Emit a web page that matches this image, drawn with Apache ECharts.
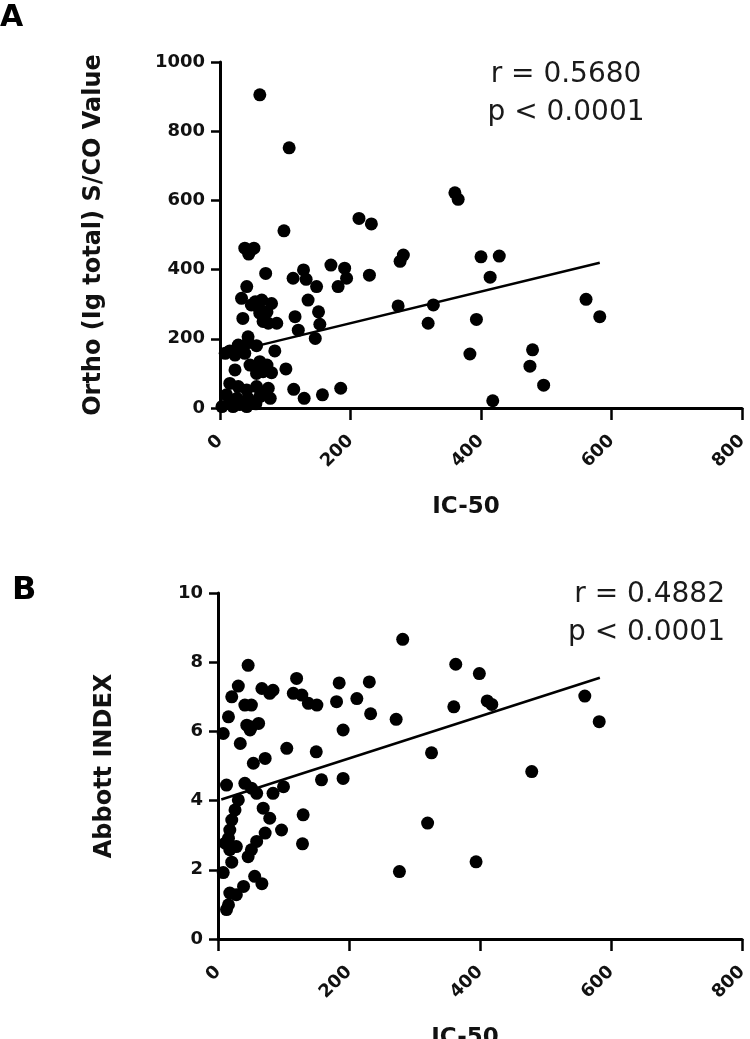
<!DOCTYPE html>
<html>
<head>
<meta charset="utf-8">
<script src="https://cdn.jsdelivr.net/npm/echarts@6/dist/echarts.min.js"></script>
<style>
html,body{margin:0;padding:0;background:#fff;}
#c{width:750px;height:1039px;}
</style>
</head>
<body>
<div id="c"></div>
<script>
// Panel A: IC-50 vs Ortho (Ig total) S/CO value
const pointsA = [
  [61,905],[106,752],[98,512],[213,548],[232,532],[229,384],
  [360,622],[365,603],[281,442],[276,424],[400,437],[428,439],[414,378],
  [273,295],[327,298],[319,245],[393,256],[383,156],[479,168],[475,121],[496,66],[418,21],[561,314],[582,264],
  [38,462],[52,462],[44,445],[47,456],[70,389],[41,351],[33,317],[48,298],[64,312],[79,302],[54,307],[35,259],
  [61,274],[66,250],[74,245],[87,245],[61,283],[72,278],
  [112,375],[128,399],[132,372],[135,312],[115,264],[120,225],[148,351],[151,278],[153,242],[146,201],
  [170,413],[191,404],[194,375],[181,351],
  [43,206],[15,165],[28,182],[43,190],[56,180],[8,158],[23,153],[38,158],[84,165],[46,124],[61,134],[72,124],
  [23,110],[101,113],[79,102],[56,100],[54,119],[66,105],
  [113,54],[129,28],[157,38],[185,57],
  [15,71],[28,62],[41,52],[56,62],[74,57],[10,38],[26,28],[43,28],[61,33],[77,28],[3,4],[20,4],[41,4],[15,18],
  [30,10],[55,12],[68,40]
];
const fitA = [[3,155],[582,420]];

// Panel B: IC-50 vs Abbott INDEX
const pointsB = [
  [282,8.66],[363,7.94],[399,7.67],[231,7.43],[233,6.51],[272,6.35],[360,6.71],[411,6.88],[418,6.78],
  [560,7.02],[582,6.28],[326,5.38],[479,4.84],[320,3.35],[277,1.95],[394,2.23],
  [46,7.91],[31,7.31],[21,7.0],[16,6.42],[8,5.94],[34,5.65],[41,6.76],[51,6.76],[44,6.18],[51,6.13],
  [62,6.23],[49,6.04],[67,7.24],[79,7.1],[84,7.19],[120,7.53],[115,7.1],[128,7.05],[138,6.81],[151,6.76],
  [185,7.4],[181,6.86],[212,6.95],[191,6.04],[105,5.51],[150,5.41],[54,5.08],[72,5.22],[158,4.6],[191,4.64],
  [13,4.45],[41,4.5],[51,4.36],[59,4.21],[84,4.21],[100,4.4],[69,3.78],[79,3.49],[130,3.59],[97,3.15],
  [129,2.75],[72,3.06],[59,2.82],[51,2.58],[46,2.38],
  [31,4.02],[26,3.73],[21,3.44],[18,3.15],[16,2.91],[11,2.77],[18,2.58],[28,2.67],
  [21,2.22],[8,1.92],[56,1.81],[67,1.6],[39,1.52],[28,1.28],[18,1.33],[16,0.99],[13,0.85]
];
const fitB = [[5,4.03],[583,7.55]];

const xTicks = [0,200,400,600,800];
const yTicksA = [0,200,400,600,800,1000];
const yTicksB = [0,2,4,6,8,10];

const titleA = ['r = 0.5680','p < 0.0001'];
const titleB = ['r = 0.4882','p < 0.0001'];

const boldFont = 'DejaVu Sans';
function plain(v){ return String(v); }
function xAxisCfg(idx){
  return {
    gridIndex: idx, type:'value', min: xTicks[0], max: xTicks[xTicks.length-1],
    interval: xTicks[1]-xTicks[0],
    name:'IC-50', nameLocation:'middle', nameGap:88,
    nameTextStyle:{fontFamily:boldFont, fontWeight:'bold', fontSize:23, color:'#111', padding:[0,30,0,0]},
    axisLine:{show:true, onZero:false, lineStyle:{color:'#000', width:3}},
    axisTick:{show:true, inside:false, length:12, lineStyle:{color:'#000', width:2.5}},
    axisLabel:{rotate:45, margin:30, formatter:plain, fontFamily:boldFont, fontWeight:'bold', fontSize:18, color:'#111'},
    splitLine:{show:false}
  };
}
function yAxisCfg(idx, ticks, name, gap){
  return {
    gridIndex: idx, type:'value', min: ticks[0], max: ticks[ticks.length-1],
    interval: ticks[1]-ticks[0],
    name:name, nameLocation:'middle', nameGap:gap, nameRotate:90,
    nameTextStyle:{fontFamily:boldFont, fontWeight:'bold', fontSize:24, color:'#111'},
    axisLine:{show:true, onZero:false, lineStyle:{color:'#000', width:3}},
    axisTick:{show:true, inside:false, length:9, lineStyle:{color:'#000', width:2.5}},
    axisLabel:{margin:15, formatter:plain, fontFamily:boldFont, fontWeight:'bold', fontSize:18, color:'#111'},
    splitLine:{show:false}
  };
}

const chart = echarts.init(document.getElementById('c'), null, {renderer:'canvas'});
chart.setOption({
  backgroundColor:'#fff',
  animation:false,
  grid:[
    {left:220, right:8, top:62, height:346, outerBoundsMode:'none', containLabel:false},
    {left:218, right:8, top:593, height:346, outerBoundsMode:'none', containLabel:false}
  ],
  xAxis:[xAxisCfg(0), xAxisCfg(1)],
  yAxis:[
    yAxisCfg(0, yTicksA, 'Ortho (Ig total) S/CO Value', 114),
    yAxisCfg(1, yTicksB, 'Abbott INDEX', 101)
  ],
  series:[
    {type:'line', xAxisIndex:0, yAxisIndex:0, data:fitA, symbol:'none',
     lineStyle:{color:'#000', width:2.5}, z:1},
    {type:'scatter', xAxisIndex:0, yAxisIndex:0, data:pointsA, symbol:'circle', symbolSize:13,
     itemStyle:{color:'#000', opacity:1}, z:2},
    {type:'line', xAxisIndex:1, yAxisIndex:1, data:fitB, symbol:'none',
     lineStyle:{color:'#000', width:2.5}, z:1},
    {type:'scatter', xAxisIndex:1, yAxisIndex:1, data:pointsB, symbol:'circle', symbolSize:13,
     itemStyle:{color:'#000', opacity:1}, z:2}
  ],
  graphic:[
    {type:'text', left:0, top:3, style:{text:'A', font:'bold 30px "DejaVu Sans"', fill:'#000'}},
    {type:'text', left:12, top:575, style:{text:'B', font:'bold 32px "DejaVu Sans"', fill:'#000'}},
    {type:'text', x:566, y:75, style:{text:titleA[0], font:'28px "DejaVu Sans"', fill:'#1a1a1a', align:'center', verticalAlign:'middle'}},
    {type:'text', x:566, y:113, style:{text:titleA[1], font:'28px "DejaVu Sans"', fill:'#1a1a1a', align:'center', verticalAlign:'middle'}},
    {type:'text', x:725, y:595, style:{text:titleB[0], font:'28px "DejaVu Sans"', fill:'#1a1a1a', align:'right', verticalAlign:'middle'}},
    {type:'text', x:725, y:633, style:{text:titleB[1], font:'28px "DejaVu Sans"', fill:'#1a1a1a', align:'right', verticalAlign:'middle'}}
  ]
});
</script>
</body>
</html>
